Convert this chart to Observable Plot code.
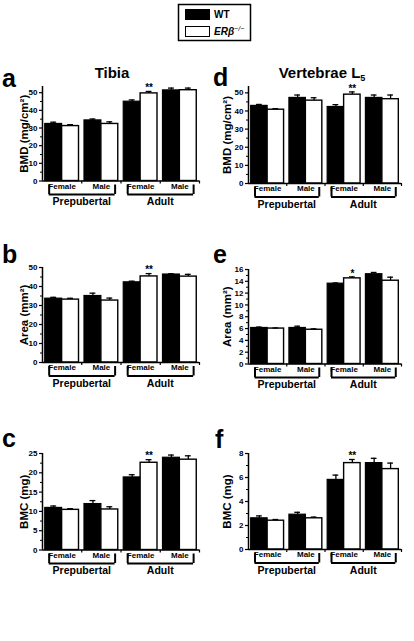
<!DOCTYPE html>
<html><head><meta charset="utf-8">
<script src="https://cdn.jsdelivr.net/npm/d3@7"></script>
<script src="https://cdn.jsdelivr.net/npm/@observablehq/plot@0.6"></script>
<style>
body{margin:0;background:#fff;}
#root{position:relative;width:414px;height:641px;overflow:hidden;background:#fff;}
#root svg{position:absolute;overflow:visible;}
</style></head><body><div id="root"></div>
<script>
// ---- data ----
const sexes = ["Female", "Male", "Female", "Male"];
const ages = ["Prepubertal", "Adult"];
const genotypes = ["WT", "ERβ"];

const tibiaBMD_WT = [32.3, 34.3, 44.9, 51.3];
const tibiaBMD_KO = [31.1, 32.3, 49.6, 51.4];
const tibiaBMD_WTerr = [1.0, 0.8, 1.0, 1.3];
const tibiaBMD_KOerr = [0.8, 1.2, 1.1, 1.2];
const tibiaBMD_sig = ["", "", "**", ""];

const tibiaArea_WT = [33.6, 35.0, 42.2, 46.3];
const tibiaArea_KO = [33.1, 32.6, 45.3, 45.2];
const tibiaArea_WTerr = [0.7, 1.5, 0.6, 0.4];
const tibiaArea_KOerr = [0.7, 1.3, 1.5, 1.2];
const tibiaArea_sig = ["", "", "**", ""];

const tibiaBMC_WT = [10.9, 11.9, 18.8, 23.9];
const tibiaBMC_KO = [10.4, 10.5, 22.6, 23.4];
const tibiaBMC_WTerr = [0.5, 0.9, 0.7, 0.7];
const tibiaBMC_KOerr = [0.3, 0.7, 0.8, 1.0];
const tibiaBMC_sig = ["", "", "**", ""];

const vertBMD_WT = [42.8, 47.2, 42.2, 47.2];
const vertBMD_KO = [40.7, 45.7, 49.0, 46.5];
const vertBMD_WTerr = [0.8, 1.6, 1.3, 1.6];
const vertBMD_KOerr = [0.6, 1.6, 1.5, 2.3];
const vertBMD_sig = ["", "", "**", ""];

const vertArea_WT = [6.1, 6.1, 13.6, 15.2];
const vertArea_KO = [6.0, 5.8, 14.5, 14.1];
const vertArea_WTerr = [0.15, 0.3, 0.12, 0.3];
const vertArea_KOerr = [0.1, 0.15, 0.25, 0.6];
const vertArea_sig = ["", "", "*", ""];

const vertBMC_WT = [2.6, 2.9, 5.8, 7.2];
const vertBMC_KO = [2.4, 2.6, 7.2, 6.7];
const vertBMC_WTerr = [0.2, 0.2, 0.4, 0.4];
const vertBMC_KOerr = [0.1, 0.1, 0.3, 0.5];
const vertBMC_sig = ["", "", "**", ""];

const ticksBMD = [0, 10, 20, 30, 40, 50];
const ticksArea = [0, 10, 20, 30, 40, 50];
const ticksBMC = [0, 5, 10, 15, 20, 25];
const ticksVArea = [0, 2, 4, 6, 8, 10, 12, 14, 16];
const ticksVBMC = [0, 2, 4, 6, 8];

// ---- layout ----
const FONT = '"Liberation Sans", Arial, Helvetica, sans-serif';
const PAD = 0.07;
const root = document.getElementById("root");

function panel(cfg) {
  const {wt, ko, wtErr, koErr, sig, domain, ticks, minorStep, label, labelDx,
         left, width, marginLeft, marginRight, plotTop, plotBottom} = cfg;
  const mt = 14, mb = 40;
  const wtBars = wt.map((v, i) => ({i, v, e: wtErr[i], x1: i + PAD, x2: i + 0.5, c: i + (PAD + 0.5) / 2, s: ""}));
  const koBars = ko.map((v, i) => ({i, v, e: koErr[i], x1: i + 0.5, x2: i + 1 - PAD, c: i + 0.5 + (0.5 - PAD) / 2, s: sig[i]}));
  const all = wtBars.concat(koBars);
  const minor = d3.range(0, domain[1] + 1e-9, minorStep).filter(t => !ticks.includes(t));
  const groupsData = sexes.map((s, i) => ({s, c: i + 0.5}));
  const ageData = ages.map((a, k) => ({a, x1: 2 * k + 0.17, x2: 2 * k + 1.85, c: 2 * k + 1.0}));
  const ends = ageData.flatMap(d => [d.x1, d.x2]);
  const svg = Plot.plot({
    width, height: mt + (plotBottom - plotTop) + mb,
    marginTop: mt, marginBottom: mb, marginLeft, marginRight,
    x: {domain: [0, 4]},
    y: {domain},
    style: {fontFamily: FONT, fontWeight: "bold", fontSize: "8px", color: "black", background: "transparent", overflow: "visible"},
    marks: [
      Plot.rectY(wtBars, {x1: "x1", x2: "x2", y: "v", fill: "black", stroke: "black", strokeWidth: 1.2}),
      Plot.rectY(koBars, {x1: "x1", x2: "x2", y: "v", fill: "white", stroke: "black", strokeWidth: 1.4}),
      Plot.ruleX(all, {x: "c", y1: "v", y2: d => d.v + d.e, stroke: "black", strokeWidth: 1.3}),
      Plot.ruleY(all, {y: d => d.v + d.e, x1: d => d.c - 0.075, x2: d => d.c + 0.075, stroke: "black", strokeWidth: 1.3}),
      Plot.text(koBars.filter(d => d.s), {x: "c", y: d => d.v + d.e, text: "s", dy: -3.5, fontSize: 10, fontWeight: "bold"}),
      Plot.ruleY([0], {stroke: "black", strokeWidth: 1.5}),
      Plot.ruleX([0], {stroke: "black", strokeWidth: 1.5}),
      Plot.axisY({ticks, tickSize: 3, tickPadding: 2, label: null, fontSize: 8, fontWeight: "bold", strokeWidth: 1.2}),
      Plot.axisY({ticks: minor, tickSize: 2, tickFormat: () => "", label: null, strokeWidth: 1}),
      Plot.axisX({ticks: [1, 2, 3, 4], tickSize: 3, tickFormat: () => "", label: null, strokeWidth: 1.2}),
      Plot.text([label], {frameAnchor: "left", textAnchor: "middle", rotate: -90, dx: labelDx, text: d => d, fontSize: 11.5, fontWeight: "bold"}),
      Plot.text(groupsData, {x: "c", frameAnchor: "bottom", dy: 7.5, text: "s", fontSize: 8, fontWeight: "bold"}),
      Plot.ruleX(ends, {x: d => d, y1: 0, y2: 0, insetTop: 4, insetBottom: -13.5, stroke: "black", strokeWidth: 2}),
      Plot.ruleY(ageData, {y: 0, x1: "x1", x2: "x2", dy: 13.5, stroke: "black", strokeWidth: 2}),
      Plot.text(ageData, {x: "c", frameAnchor: "bottom", dy: 24, text: "a", fontSize: 10.5, fontWeight: "bold"})
    ]
  });
  svg.style.left = left + "px";
  svg.style.top = (plotTop - mt) + "px";
  root.appendChild(svg);
}

const L = {left: 0, width: 207, marginLeft: 42, marginRight: 8, labelDx: -18};
const R = {left: 207, width: 207, marginLeft: 41, marginRight: 13, labelDx: -21};

panel({...L, wt: tibiaBMD_WT, ko: tibiaBMD_KO, wtErr: tibiaBMD_WTerr, koErr: tibiaBMD_KOerr, sig: tibiaBMD_sig,
  domain: [0, 53.5], ticks: ticksBMD, minorStep: 5, label: "BMD (mg/cm²)", plotTop: 86, plotBottom: 180.5});
panel({...L, wt: tibiaArea_WT, ko: tibiaArea_KO, wtErr: tibiaArea_WTerr, koErr: tibiaArea_KOerr, sig: tibiaArea_sig,
  domain: [0, 50], ticks: ticksArea, minorStep: 5, label: "Area (mm²)", plotTop: 266.5, plotBottom: 361.5});
panel({...L, wt: tibiaBMC_WT, ko: tibiaBMC_KO, wtErr: tibiaBMC_WTerr, koErr: tibiaBMC_KOerr, sig: tibiaBMC_sig,
  domain: [0, 25], ticks: ticksBMC, minorStep: 2.5, label: "BMC (mg)", plotTop: 452.5, plotBottom: 549});
panel({...R, wt: vertBMD_WT, ko: vertBMD_KO, wtErr: vertBMD_WTerr, koErr: vertBMD_KOerr, sig: vertBMD_sig,
  domain: [0, 53.5], ticks: ticksBMD, minorStep: 5, label: "BMD (mg/cm²)", plotTop: 85.5, plotBottom: 182.5});
panel({...R, wt: vertArea_WT, ko: vertArea_KO, wtErr: vertArea_WTerr, koErr: vertArea_KOerr, sig: vertArea_sig,
  domain: [0, 16], ticks: ticksVArea, minorStep: 1, label: "Area (mm²)", plotTop: 268.5, plotBottom: 363});
panel({...R, wt: vertBMC_WT, ko: vertBMC_KO, wtErr: vertBMC_WTerr, koErr: vertBMC_KOerr, sig: vertBMC_sig,
  domain: [0, 8], ticks: ticksVBMC, minorStep: 1, label: "BMC (mg)", plotTop: 453, plotBottom: 549});

// ---- overlay text: panel letters, titles, legend ----
const ov = d3.select(root).append("svg")
  .attr("width", 414).attr("height", 641)
  .style("left", "0px").style("top", "0px")
  .attr("font-family", FONT).attr("font-weight", "bold");
const letters = [["a", 2, 87], ["d", 213, 86], ["b", 2, 263], ["e", 213, 263], ["c", 2, 447], ["f", 215, 448]];
ov.selectAll("text.l").data(letters).join("text").attr("class", "l")
  .attr("x", d => d[1]).attr("y", d => d[2]).attr("font-size", 25).text(d => d[0]);
ov.append("text").attr("x", 112).attr("y", 78).attr("text-anchor", "middle").attr("font-size", 15).text("Tibia");
const vt = ov.append("text").attr("x", 322).attr("y", 78).attr("text-anchor", "middle").attr("font-size", 15);
vt.append("tspan").text("Vertebrae L");
vt.append("tspan").attr("font-size", 9).attr("dy", 3).text("5");

const lg = ov.append("g");
lg.append("rect").attr("x", 178.5).attr("y", 4.5).attr("width", 72).attr("height", 36)
  .attr("fill", "white").attr("stroke", "black").attr("stroke-width", 1.5);
lg.append("rect").attr("x", 185).attr("y", 9).attr("width", 25).attr("height", 11).attr("fill", "black");
lg.append("rect").attr("x", 185.5).attr("y", 26.5).attr("width", 24).attr("height", 10)
  .attr("fill", "white").attr("stroke", "black").attr("stroke-width", 1);
lg.append("text").attr("x", 214).attr("y", 18).attr("font-size", 10).text(genotypes[0]);
const kt = lg.append("text").attr("x", 214).attr("y", 35).attr("font-size", 10).attr("font-style", "italic");
kt.append("tspan").text(genotypes[1]);
kt.append("tspan").attr("font-size", 7).attr("dy", -4).attr("font-weight", "normal").text("−/−");
</script></body></html>
